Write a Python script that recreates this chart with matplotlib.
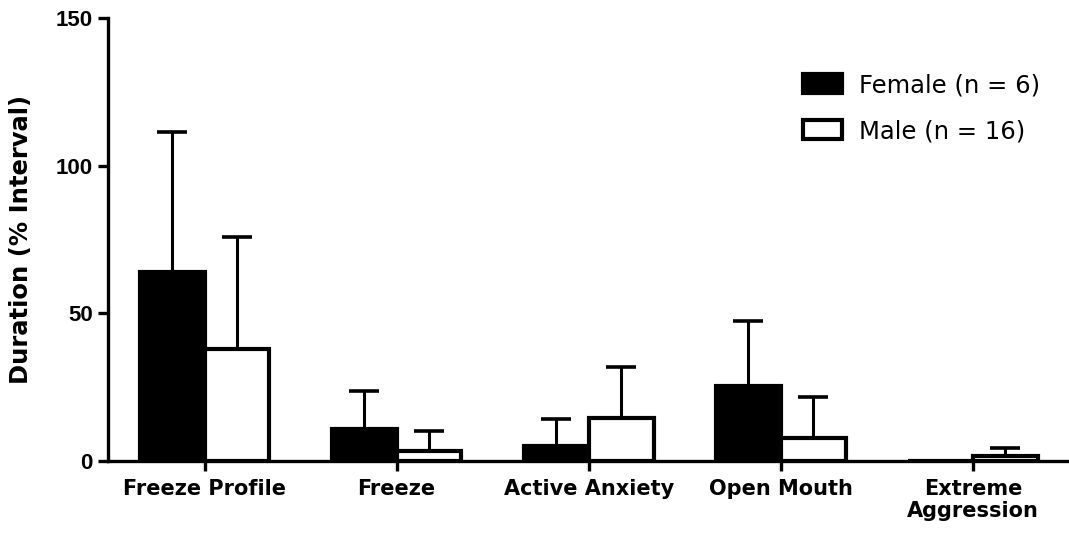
import numpy as np
import matplotlib
matplotlib.use('Agg')
import matplotlib.pyplot as plt
from matplotlib.patches import Patch

# behaviour categories and group means / SD (% of interval)
categories = ['Freeze Profile', 'Freeze', 'Active Anxiety', 'Open Mouth', 'Extreme\nAggression']
female_mean = [64.2, 10.8, 5.1, 25.3, 0.0]
female_err = [47.3, 12.8, 9.2, 22.3, 0.0]
male_mean = [38.0, 3.4, 14.5, 7.9, 1.8]
male_err = [38.0, 6.7, 17.3, 13.8, 2.6]
female_label = 'Female (n = 6)'
male_label = 'Male (n = 16)'

fig = plt.figure(figsize=(10.69, 5.37), dpi=100)
ax = fig.add_axes([0.101, 0.1415, 0.899, 0.8245])

x = np.arange(len(categories))
w = 0.337
lw = 3

ax.bar(x - w / 2, female_mean, w, color='black', edgecolor='black', linewidth=lw, zorder=2)
ax.bar(x + w / 2, male_mean, w, color='white', edgecolor='black', linewidth=lw, zorder=2)

# one-sided error bars (upper only)
for xs, m, e in [(x - w / 2, female_mean, female_err), (x + w / 2, male_mean, male_err)]:
    for xi, mi, ei in zip(xs, m, e):
        if ei > 0:
            ax.errorbar(xi, mi, yerr=[[0], [ei]], fmt='none', ecolor='black',
                        elinewidth=2.2, capsize=10.5, capthick=2.6, zorder=1)

ax.set_xlim(-0.503, 4.5)
ax.set_ylim(0, 150)
ax.set_yticks([0, 50, 100, 150])
ax.set_yticklabels(['0', '50', '100', '150'], fontfamily='Liberation Sans',
                   fontweight='bold', fontsize=16)
ax.set_xticks(x)
ax.set_xticklabels(categories, fontfamily='DejaVu Sans', fontweight='bold', fontsize=15,
                   linespacing=1.15)
ax.tick_params(axis='both', direction='out', length=7, width=2.4, colors='black')
ax.tick_params(axis='x', pad=6)
ax.tick_params(axis='y', pad=4)

for s in ['top', 'right']:
    ax.spines[s].set_visible(False)
for s in ['left', 'bottom']:
    ax.spines[s].set_linewidth(2.4)

ax.set_ylabel('Duration (% Interval)', fontfamily='DejaVu Sans', fontweight='bold',
              fontsize=17.5, labelpad=16)

handles = [Patch(facecolor='black', edgecolor='black', linewidth=lw, label=female_label),
           Patch(facecolor='white', edgecolor='black', linewidth=lw, label=male_label)]
ax.legend(handles=handles, loc='upper left', bbox_to_anchor=(0.723, 0.876), frameon=False,
          prop={'family': 'DejaVu Sans', 'size': 17.5}, handlelength=1.6,
          handleheight=0.85, handletextpad=0.7, labelspacing=0.9,
          borderpad=0, borderaxespad=0)

plt.savefig('out.png', dpi=100)
